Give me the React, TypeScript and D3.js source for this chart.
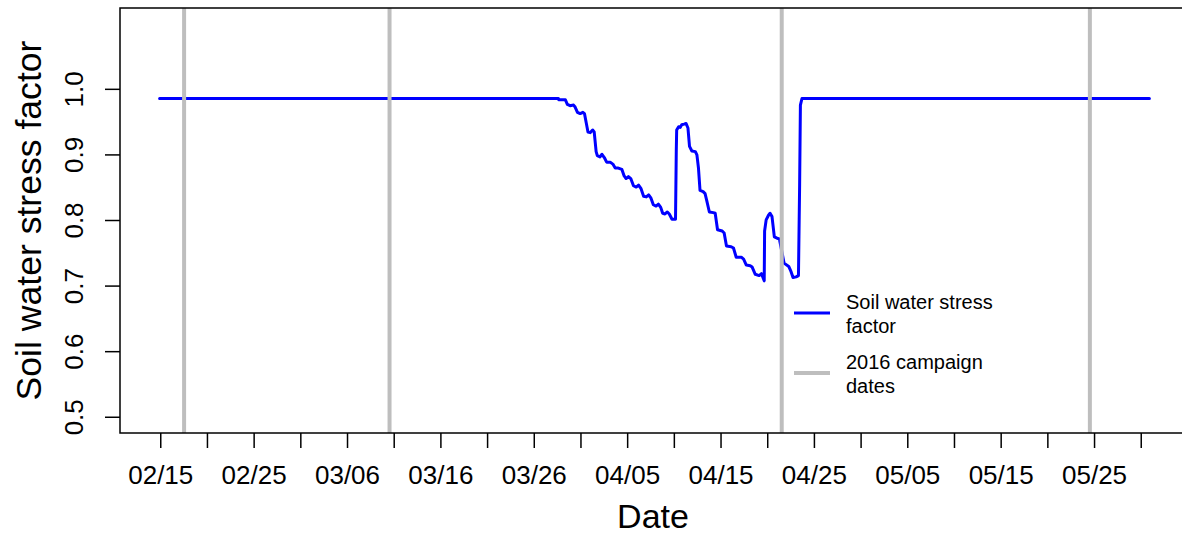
import React from "react";
import * as d3 from "d3";

// ---- data ----
const seriesTimes: string[] = [
  "2016-02-14T21:00", "2016-03-28T14:00", "2016-03-28T15:00", "2016-03-29T08:00",
  "2016-03-29T13:00", "2016-03-29T20:00", "2016-03-30T05:00", "2016-03-30T09:00",
  "2016-03-30T15:00", "2016-03-30T22:00", "2016-03-31T05:00", "2016-03-31T09:00",
  "2016-03-31T18:00", "2016-04-01T00:00", "2016-04-01T06:00", "2016-04-01T10:00",
  "2016-04-01T15:00", "2016-04-01T18:00", "2016-04-02T01:00", "2016-04-02T06:00",
  "2016-04-02T12:00", "2016-04-02T18:00", "2016-04-03T03:00", "2016-04-03T10:00",
  "2016-04-03T16:00", "2016-04-04T00:00", "2016-04-04T09:00", "2016-04-04T15:00",
  "2016-04-04T20:00", "2016-04-05T02:00", "2016-04-05T08:00", "2016-04-05T15:00",
  "2016-04-05T22:00", "2016-04-06T04:00", "2016-04-06T10:00", "2016-04-06T17:00",
  "2016-04-07T00:00", "2016-04-07T06:00", "2016-04-07T12:00", "2016-04-07T18:00",
  "2016-04-08T01:00", "2016-04-08T07:00", "2016-04-08T13:00", "2016-04-08T18:00",
  "2016-04-09T00:00", "2016-04-09T06:00", "2016-04-09T11:00", "2016-04-09T18:00",
  "2016-04-10T03:00", "2016-04-10T05:00", "2016-04-10T06:00", "2016-04-10T11:00",
  "2016-04-10T15:00", "2016-04-10T19:00", "2016-04-11T01:00", "2016-04-11T06:00",
  "2016-04-11T11:00", "2016-04-11T15:00", "2016-04-11T21:00", "2016-04-12T06:00",
  "2016-04-12T10:00", "2016-04-12T14:00", "2016-04-12T18:00", "2016-04-13T02:00",
  "2016-04-13T07:00", "2016-04-13T11:00", "2016-04-13T18:00", "2016-04-14T04:00",
  "2016-04-14T09:00", "2016-04-14T15:00", "2016-04-15T03:00", "2016-04-15T08:00",
  "2016-04-15T14:00", "2016-04-16T02:00", "2016-04-16T08:00", "2016-04-16T15:00",
  "2016-04-17T04:00", "2016-04-17T10:00", "2016-04-17T17:00", "2016-04-18T03:00",
  "2016-04-18T08:00", "2016-04-18T16:00", "2016-04-19T02:00", "2016-04-19T08:00",
  "2016-04-19T15:00", "2016-04-19T16:00", "2016-04-19T20:00", "2016-04-20T02:00",
  "2016-04-20T06:00", "2016-04-20T11:00", "2016-04-20T17:00", "2016-04-21T00:00",
  "2016-04-21T06:00", "2016-04-21T18:00", "2016-04-22T06:00", "2016-04-22T12:00",
  "2016-04-22T17:00", "2016-04-23T01:00", "2016-04-23T07:00", "2016-04-23T10:00",
  "2016-04-23T12:00", "2016-04-23T16:00", "2016-05-30T21:00",
];
const seriesValues: number[] = [
  0.986, 0.986, 0.984, 0.984,
  0.977, 0.975, 0.976, 0.973,
  0.965, 0.963, 0.965, 0.963,
  0.935, 0.934, 0.938, 0.935,
  0.905, 0.899, 0.897, 0.901,
  0.896, 0.889, 0.889, 0.886,
  0.880, 0.880, 0.878, 0.868,
  0.864, 0.867, 0.864, 0.853,
  0.851, 0.854, 0.849, 0.837,
  0.836, 0.839, 0.834, 0.824,
  0.822, 0.825, 0.820, 0.811,
  0.810, 0.813, 0.810, 0.802,
  0.802, 0.907, 0.938, 0.943,
  0.942, 0.946, 0.947, 0.948,
  0.941, 0.913, 0.906, 0.905,
  0.900, 0.880, 0.846, 0.844,
  0.841, 0.831, 0.813, 0.812,
  0.811, 0.786, 0.784, 0.781,
  0.761, 0.760, 0.758, 0.744,
  0.744, 0.741, 0.732, 0.731,
  0.729, 0.718, 0.716, 0.719,
  0.708, 0.784, 0.801, 0.808,
  0.811, 0.806, 0.775, 0.773,
  0.772, 0.735, 0.730, 0.722,
  0.713, 0.714, 0.716, 0.854,
  0.976, 0.986, 0.986,
];
const campaignDates: string[] = [
  "2016-02-17T12:00", "2016-03-10T12:00", "2016-04-21T12:00", "2016-05-24T12:00",
];
const xTickDates: string[] = [
  "2016-02-15", "2016-02-20", "2016-02-25", "2016-03-01", "2016-03-06", "2016-03-11",
  "2016-03-16", "2016-03-21", "2016-03-26", "2016-03-31", "2016-04-05", "2016-04-10",
  "2016-04-15", "2016-04-20", "2016-04-25", "2016-04-30", "2016-05-05", "2016-05-10",
  "2016-05-15", "2016-05-20", "2016-05-25", "2016-05-30",
];
const xTickLabels: string[] = [
  "02/15", "", "02/25", "", "03/06", "", "03/16", "", "03/26", "", "04/05", "",
  "04/15", "", "04/25", "", "05/05", "", "05/15", "", "05/25", "",
];
const yTicks: number[] = [0.5, 0.6, 0.7, 0.8, 0.9, 1.0];
const yLimits: number[] = [0.5, 1.1];
const legendItems: { lines: string[]; color: string }[] = [
  { lines: ["Soil water stress", "factor"], color: "#0000FF" },
  { lines: ["2016 campaign", "dates"], color: "#BEBEBE" },
];

const parse = d3.utcParse("%Y-%m-%dT%H:%M");
const parseDay = d3.utcParse("%Y-%m-%d");

export default function App() {
  const W = 1182, H = 535;
  const left = 120, right = 1189, top = 8, bottom = 433;
  const font = "'Liberation Sans', Arial, Helvetica, sans-serif";

  const data = seriesTimes.map((t, i) => ({ t: parse(t) as Date, v: seriesValues[i] }));
  const [t0, t1] = d3.extent(data, (d) => d.t) as [Date, Date];
  const span = +t1 - +t0;
  const x = d3
    .scaleUtc()
    .domain([new Date(+t0 - 0.04 * span), new Date(+t1 + 0.04 * span)])
    .range([left, right]);
  const yr = yLimits[1] - yLimits[0];
  const y = d3
    .scaleLinear()
    .domain([yLimits[0] - 0.04 * yr, yLimits[1] + 0.04 * yr])
    .range([bottom, top]);

  const line = d3
    .line<{ t: Date; v: number }>()
    .x((d) => x(d.t))
    .y((d) => y(d.v));

  const xt = xTickDates.map((s) => parseDay(s) as Date);

  return (
    <svg
      width={W}
      height={H}
      style={{ position: "absolute", left: 0, top: 0, background: "#fff" }}
      fontFamily={font}
    >
      <defs>
        <clipPath id="plotclip">
          <rect x={left} y={top} width={right - left} height={bottom - top} />
        </clipPath>
      </defs>
      <rect x={0} y={0} width={W} height={H} fill="#fff" />
      <g clipPath="url(#plotclip)">
        <path d={line(data) || ""} fill="none" stroke="#0000FF" strokeWidth={3} strokeLinejoin="round" strokeLinecap="round" />
        {campaignDates.map((c, i) => {
          const cx = x(parse(c) as Date);
          return <line key={i} x1={cx} x2={cx} y1={top} y2={bottom} stroke="#BEBEBE" strokeWidth={4} />;
        })}
      </g>
      {/* box */}
      <rect x={left} y={top} width={right - left} height={bottom - top} fill="none" stroke="#000" strokeWidth={1.5} />
      {/* x axis */}
      {xt.map((d, i) => (
        <g key={i}>
          <line x1={x(d)} x2={x(d)} y1={bottom} y2={bottom + 15} stroke="#000" strokeWidth={1.5} />
          {xTickLabels[i] && (
            <text x={x(d)} y={484} textAnchor="middle" fontSize={26} fill="#000">
              {xTickLabels[i]}
            </text>
          )}
        </g>
      ))}
      {/* y axis */}
      {yTicks.map((v, i) => (
        <g key={i}>
          <line x1={left - 15} x2={left} y1={y(v)} y2={y(v)} stroke="#000" strokeWidth={1.5} />
          <text
            transform={`translate(83,${y(v)}) rotate(-90)`}
            textAnchor="middle"
            fontSize={26}
            fill="#000"
          >
            {d3.format(".1f")(v)}
          </text>
        </g>
      ))}
      <text x={653} y={528} textAnchor="middle" fontSize={34} fill="#000">
        Date
      </text>
      <text
        transform={`translate(41,${(top + bottom) / 2}) rotate(-90)`}
        textAnchor="middle"
        fontSize={35.6}
        fill="#000"
      >
        Soil water stress factor
      </text>
      {/* legend */}
      {legendItems.map((it, i) => {
        const ly = 313 + i * 60;
        return (
          <g key={i}>
            <line x1={794} x2={830} y1={ly} y2={ly} stroke={it.color} strokeWidth={i === 0 ? 3 : 4} />
            {it.lines.map((s, j) => (
              <text key={j} x={846} y={ly - 4 + j * 23.5} fontSize={20} fill="#000">
                {s}
              </text>
            ))}
          </g>
        );
      })}
    </svg>
  );
}
